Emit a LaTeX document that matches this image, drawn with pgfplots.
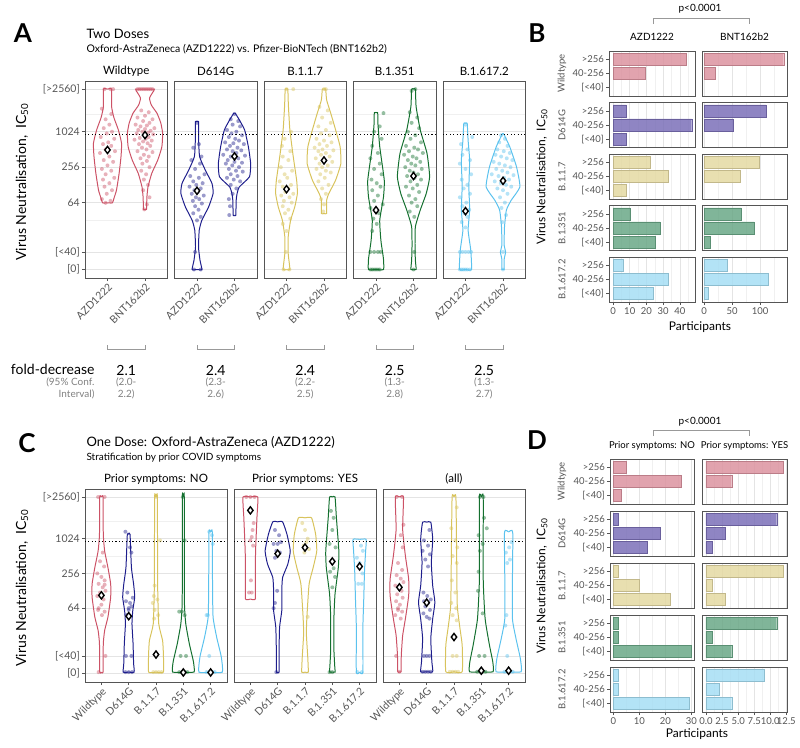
\documentclass[border=0pt]{standalone}
\usepackage{pgfplots}
\pgfplotsset{compat=1.18}
\usepackage{pgfplotstable}
\usepackage{fontspec}
\setmainfont{Lato}
\newcommand{\fs}[1]{\fontsize{#1}{#1}\selectfont}
\definecolor{lR}{HTML}{CC5266}
\definecolor{lB}{HTML}{1E1E8C}
\definecolor{lY}{HTML}{D8C35C}
\definecolor{lG}{HTML}{14702F}
\definecolor{lC}{HTML}{5BC2EE}
\definecolor{bR}{HTML}{DC93A0}
\definecolor{bB}{HTML}{7B70B8}
\definecolor{bY}{HTML}{E4D9A2}
\definecolor{bG}{HTML}{6AA887}
\definecolor{bC}{HTML}{A6DEF4}
\definecolor{frame}{HTML}{555555}
\definecolor{gridc}{HTML}{E4E4E4}
\definecolor{gridm}{HTML}{F0F0F0}
\definecolor{tickc}{HTML}{555555}

% ---------- violin profiles (value in log2 units, half width) ----------
\pgfplotstableread[row sep=\\]{v w\\ 5.99 0\\ 5.99 0.13\\ 6.3 0.18\\ 6.71 0.24\\ 7.65 0.31\\ 8.59 0.36\\ 9.34 0.375\\ 10.1 0.29\\ 10.8 0.17\\ 11.41 0.11\\ 12.4 0.11\\ 12.4 0\\}\vAWa
\pgfplotstableread[row sep=\\]{v w\\ 5.62 0\\ 5.62 0.04\\ 6.3 0.05\\ 6.89 0.08\\ 7.65 0.18\\ 8.4 0.34\\ 9.15 0.45\\ 9.91 0.47\\ 10.5 0.42\\ 11.04 0.32\\ 11.5 0.17\\ 11.89 0.12\\ 12.2 0.2\\ 12.4 0.25\\ 12.4 0\\}\vAWb
\pgfplotstableread[row sep=\\]{v w\\ 2.23 0\\ 2.23 0.13\\ 2.75 0.08\\ 3.5 0.04\\ 4.45 0.06\\ 5.01 0.13\\ 5.76 0.31\\ 6.52 0.43\\ 7.08 0.4\\ 7.84 0.22\\ 8.59 0.07\\ 9.5 0.045\\ 10.56 0.045\\ 10.56 0\\}\vADa
\pgfplotstableread[row sep=\\]{v w\\ 5.29 0\\ 5.29 0.035\\ 6.14 0.045\\ 6.52 0.07\\ 6.89 0.13\\ 7.46 0.4\\ 8.21 0.43\\ 9.15 0.37\\ 10.1 0.27\\ 10.7 0.12\\ 11.04 0.02\\ 11.04 0\\}\vADb
\pgfplotstableread[row sep=\\]{v w\\ 2.23 0\\ 2.23 0.09\\ 3.13 0.045\\ 4.07 0.045\\ 5.01 0.11\\ 5.76 0.22\\ 6.52 0.29\\ 7.27 0.27\\ 8.59 0.18\\ 10.1 0.09\\ 11.5 0.05\\ 12.4 0.035\\ 12.4 0\\}\vAKa
\pgfplotstableread[row sep=\\]{v w\\ 5.39 0\\ 5.39 0.07\\ 6.14 0.07\\ 6.52 0.13\\ 7.27 0.31\\ 8.21 0.45\\ 9.15 0.43\\ 10.1 0.31\\ 11.04 0.18\\ 11.79 0.07\\ 12.4 0.045\\ 12.4 0\\}\vAKb
\pgfplotstableread[row sep=\\]{v w\\ 2.23 0\\ 2.23 0.2\\ 2.8 0.2\\ 3.13 0.18\\ 3.88 0.13\\ 5.01 0.1\\ 6.33 0.2\\ 7.27 0.22\\ 9.15 0.1\\ 10.5 0.05\\ 11.07 0.045\\ 11.07 0\\}\vASa
\pgfplotstableread[row sep=\\]{v w\\ 2.23 0\\ 2.23 0.07\\ 2.75 0.05\\ 3.5 0.04\\ 4.64 0.05\\ 5.58 0.18\\ 6.52 0.34\\ 7.46 0.43\\ 8.78 0.36\\ 10.1 0.18\\ 11.41 0.07\\ 12.4 0.05\\ 12.4 0\\}\vASb
\pgfplotstableread[row sep=\\]{v w\\ 2.23 0\\ 2.23 0.16\\ 3.32 0.14\\ 4.45 0.07\\ 5.58 0.11\\ 6.89 0.09\\ 8.4 0.11\\ 9.5 0.07\\ 10.47 0.045\\ 10.47 0\\}\vAIa
\pgfplotstableread[row sep=\\]{v w\\ 2.23 0\\ 2.23 0.03\\ 2.8 0.03\\ 3.22 0.07\\ 3.6 0.03\\ 4.63 0.04\\ 5.58 0.09\\ 6.14 0.22\\ 6.89 0.45\\ 8.02 0.36\\ 9.15 0.18\\ 9.87 0.02\\ 9.87 0\\}\vAIb
\pgfplotstableread[row sep=\\]{v w\\ 2.32 0\\ 2.32 0.06\\ 3.96 0.07\\ 4.72 0.12\\ 5.49 0.24\\ 6.63 0.34\\ 7.39 0.34\\ 8.34 0.24\\ 9.29 0.12\\ 10.25 0.07\\ 12.4 0.06\\ 12.4 0\\}\vCNw
\pgfplotstableread[row sep=\\]{v w\\ 2.32 0\\ 2.32 0.2\\ 2.82 0.18\\ 3.96 0.16\\ 5.11 0.12\\ 5.87 0.15\\ 6.63 0.22\\ 7.39 0.18\\ 8.34 0.1\\ 10.25 0.05\\ 10.25 0\\}\vCNd
\pgfplotstableread[row sep=\\]{v w\\ 2.32 0\\ 2.32 0.27\\ 3.39 0.27\\ 4.15 0.24\\ 5.11 0.1\\ 7.39 0.06\\ 12.4 0.05\\ 12.4 0\\}\vCNk
\pgfplotstableread[row sep=\\]{v w\\ 2.32 0\\ 2.32 0.39\\ 2.7 0.39\\ 3.01 0.36\\ 3.96 0.22\\ 5.11 0.09\\ 6.43 0.04\\ 12.4 0.035\\ 12.4 0\\}\vCNs
\pgfplotstableread[row sep=\\]{v w\\ 2.32 0\\ 2.32 0.43\\ 3.2 0.39\\ 4.34 0.22\\ 5.49 0.09\\ 7.39 0.07\\ 10.4 0.06\\ 10.4 0\\}\vCNi
\pgfplotstableread[row sep=\\]{v w\\ 6.53 0\\ 6.53 0.18\\ 7.77 0.18\\ 9.29 0.19\\ 11.2 0.24\\ 12.4 0.27\\ 12.4 0\\}\vCYw
\pgfplotstableread[row sep=\\]{v w\\ 2.32 0\\ 2.32 0.05\\ 3.58 0.05\\ 4.91 0.07\\ 5.87 0.15\\ 7.01 0.15\\ 7.77 0.18\\ 8.53 0.37\\ 9.29 0.46\\ 10.25 0.34\\ 10.97 0.18\\ 10.97 0\\}\vCYd
\pgfplotstableread[row sep=\\]{v w\\ 2.32 0\\ 2.32 0.12\\ 3.2 0.1\\ 4.53 0.05\\ 5.49 0.07\\ 7.39 0.15\\ 8.34 0.3\\ 9.29 0.43\\ 10.25 0.39\\ 11.2 0.24\\ 11.2 0\\}\vCYk
\pgfplotstableread[row sep=\\]{v w\\ 2.32 0\\ 2.32 0.1\\ 2.63 0.09\\ 3.58 0.06\\ 5.49 0.06\\ 6.82 0.1\\ 8.34 0.22\\ 9.29 0.24\\ 11.2 0.15\\ 12.4 0.1\\ 12.4 0\\}\vCYs
\pgfplotstableread[row sep=\\]{v w\\ 2.32 0\\ 2.32 0.12\\ 4.91 0.12\\ 6.43 0.15\\ 8.15 0.18\\ 9.29 0.22\\ 9.96 0.24\\ 9.96 0\\}\vCYi
\pgfplotstableread[row sep=\\]{v w\\ 2.34 0\\ 2.34 0.06\\ 3.29 0.07\\ 4.43 0.12\\ 5.39 0.22\\ 6.72 0.34\\ 7.67 0.34\\ 9.01 0.22\\ 10.53 0.12\\ 12.4 0.15\\ 12.4 0\\}\vCAw
\pgfplotstableread[row sep=\\]{v w\\ 2.34 0\\ 2.34 0.22\\ 2.91 0.19\\ 4.25 0.15\\ 5.39 0.22\\ 6.34 0.3\\ 7.29 0.22\\ 8.63 0.17\\ 9.96 0.22\\ 10.95 0.15\\ 10.95 0\\}\vCAd
\pgfplotstableread[row sep=\\]{v w\\ 2.34 0\\ 2.34 0.3\\ 3.86 0.3\\ 4.82 0.22\\ 6.15 0.12\\ 8.63 0.1\\ 12.4 0.07\\ 12.4 0\\}\vCAk
\pgfplotstableread[row sep=\\]{v w\\ 2.34 0\\ 2.34 0.43\\ 2.91 0.42\\ 3.86 0.3\\ 5.39 0.14\\ 7.67 0.07\\ 12.4 0.07\\ 12.4 0\\}\vCAs
\pgfplotstableread[row sep=\\]{v w\\ 2.34 0\\ 2.34 0.46\\ 3.1 0.43\\ 4.25 0.27\\ 5.39 0.14\\ 7.67 0.14\\ 10.38 0.15\\ 10.38 0\\}\vCAi

\newcommand{\violin}[3]{%
  \addplot[draw=#2, line width=1.0pt, mark=none, smooth, tension=0.3] table[x expr={#1+\thisrow{w}}, y=v] {#3};
  \addplot[draw=#2, line width=1.0pt, mark=none, smooth, tension=0.3] table[x expr={#1-\thisrow{w}}, y=v] {#3};
}

\pgfplotsset{
  vio/.style={scale only axis, anchor=north west,
    ymin=1.75, ymax=12.86, xmin=0.4,
    axis line style={draw=frame, line width=0.8pt},
    ytick={2.25,3.22,6,8,10,12.4},
    minor ytick={5,7,9,11},
    ymajorgrids, yminorgrids,
    major grid style={draw=gridc, line width=0.7pt},
    minor grid style={draw=gridm, line width=0.4pt},
    tick align=outside, tick pos=left,
    major tick length=3bp, minor tick length=0pt,
    tick style={draw=frame, line width=0.6pt},
    yticklabels={},
    every major y tick/.append style={draw opacity=0},
    xticklabel style={rotate=45, anchor=north east, font={\fs{10.5bp}}, text=tickc, inner sep=1bp},
    yticklabel style={font={\fs{10.5bp}}, text=tickc, inner sep=2bp},
  },
  firsty/.style={yticklabels={[0],[<40],64,256,1024,[>2560]}, every major y tick/.append style={draw opacity=1}},
  pts/.style={only marks, mark=*, mark size=2pt, mark options={draw opacity=0, fill opacity=0.45}},
  meanm/.style={only marks, mark=diamond*, mark size=3.6pt, mark options={fill=white, draw=black, line width=1.4pt}},
  dotl/.style={black, line width=1pt, dash pattern=on 1.1pt off 2.3pt, mark=none},
  bax/.style={scale only axis, anchor=north west, height=45bp, xbar, bar width=0.86,
    ymin=0.4, ymax=3.6, ytick={1,2,3}, yticklabels={},
    xmajorgrids, xminorgrids,
    major grid style={draw=gridc, line width=0.7pt},
    minor grid style={draw=gridm, line width=0.4pt},
    axis line style={draw=frame, line width=0.8pt},
    tick align=outside, tick pos=left, major tick length=3bp, minor tick length=0pt,
    tick style={draw=frame, line width=0.6pt},
    xticklabels={},
    every major x tick/.append style={draw opacity=0},
    every major y tick/.append style={draw opacity=0},
    yticklabel style={font={\fs{9.5bp}}, text=tickc, inner sep=2bp},
    xticklabel style={font={\fs{9.5bp}}, text=tickc, inner sep=2bp},
  },
  ylab/.style={yticklabels={[<40],40-256,>256}, every major y tick/.append style={draw opacity=1}},
  xlab/.style={every major x tick/.append style={draw opacity=1}},
  bl/.style={bax, width=86bp, xmin=-2.4, xmax=49, xtick={0,10,20,30,40}, minor xtick={5,15,25,35,45}},
  br/.style={bax, width=85bp, xmin=-4, xmax=148, xtick={0,50,100}, minor xtick={25,75,125}},
  dl/.style={bax, width=84bp, xmin=-1.3, xmax=31, xtick={0,10,20,30}, minor xtick={5,15,25}},
  dr/.style={bax, width=85bp, xmin=-0.62, xmax=12.6, xtick={0,2.5,5,7.5,10,12.5}, minor xtick={1.25,3.75,6.25,8.75,11.25}},
  barR/.style={fill=bR, draw=bR!85!black, fill opacity=0.85, line width=0.3pt},
  barB/.style={fill=bB, draw=bB!85!black, fill opacity=0.85, line width=0.3pt},
  barY/.style={fill=bY, draw=bY!85!black, fill opacity=0.85, line width=0.3pt},
  barG/.style={fill=bG, draw=bG!85!black, fill opacity=0.85, line width=0.3pt},
  barC/.style={fill=bC, draw=bC!85!black, fill opacity=0.85, line width=0.3pt},
}

\begin{document}
\begin{tikzpicture}
\useasboundingbox (0,0) rectangle (800bp,-748bp);

% ================= PANEL A =================
\node[font={\bfseries\fs{26bp}}] at (23bp,-33bp) {A};
\node[anchor=west, font={\fs{13bp}}] at (83bp,-34bp) {Two Doses};
\node[anchor=west, font={\fs{10.5bp}}] at (83bp,-49bp) {Oxford-AstraZeneca (AZD1222) vs. Pfizer-BioNTech (BNT162b2)};
\node[rotate=90, font={\fs{14bp}}] at (22bp,-182bp) {Virus Neutralisation,\ \ IC\textsubscript{50}};
\foreach \cx/\lab in {126.25/Wildtype, 215.75/D614G, 305.25/B.1.1.7, 394.75/B.1.351, 484.25/B.1.617.2}
  \node[font={\fs{11.5bp}}] at (\cx bp,-71bp) {\lab};

\begin{axis}[vio, firsty, at={(85bp,-81bp)}, width=82.5bp, height=197bp, xmax=2.6, xtick={1,2}, xticklabels={AZD1222,BNT162b2}]
\violin{1}{lR}{\vAWa}
\violin{2}{lR}{\vAWb}
\addplot[pts, lR] coordinates {(0.92,12.4)(1.08,12.4)(1.15,12.4)(0.85,11.3)(1.1,11.0)(0.95,10.7)(1.05,10.4)(0.9,10.2)(1.12,10.0)(0.98,9.9)(0.82,9.7)(1.18,9.6)(1.02,9.4)(0.88,9.3)(1.1,9.2)(0.95,9.0)(1.2,8.9)(0.8,8.8)(1.05,8.6)(0.9,8.4)(1.15,8.3)(1.0,8.1)(0.85,7.9)(1.1,7.8)(0.95,7.6)(1.18,7.4)(0.88,7.3)(1.05,7.1)(0.92,6.9)(1.12,6.7)(0.98,6.5)(0.85,6.2)(1.08,6.1)(0.95,5.99)};
\addplot[pts, lR] coordinates {(1.8,12.4)(1.85,12.4)(1.9,12.4)(1.95,12.4)(2.0,12.4)(2.05,12.4)(2.1,12.4)(2.15,12.4)(2.2,12.4)(1.9,11.2)(2.1,11.1)(2.0,10.9)(1.8,10.8)(2.2,10.7)(1.95,10.6)(2.12,10.5)(1.75,10.4)(2.05,10.35)(1.88,10.3)(2.25,10.2)(2.0,10.15)(1.82,10.1)(2.15,10.05)(1.93,10.0)(2.08,9.95)(1.78,9.9)(2.22,9.85)(1.98,9.8)(2.1,9.7)(1.86,9.65)(2.02,9.6)(1.72,9.55)(2.18,9.5)(1.95,9.45)(2.07,9.35)(1.84,9.3)(2.14,9.2)(1.92,9.1)(2.04,9.0)(1.8,8.9)(2.2,8.85)(1.97,8.7)(2.1,8.6)(1.88,8.5)(2.05,8.35)(1.93,8.2)(2.12,8.0)(1.9,7.8)(2.03,7.6)(1.97,7.3)(2.08,7.0)(1.95,6.7)(2.12,6.3)(2.05,5.9)(1.98,5.62)};
\addplot[dotl] coordinates {(0.4,9.83)(2.6,9.83)};
\addplot[meanm] coordinates {(1,8.97)(2,9.81)};
\end{axis}

\begin{axis}[vio, at={(174.5bp,-81bp)}, width=82.5bp, height=197bp, xmax=2.6, xtick={1,2}, xticklabels={AZD1222,BNT162b2}]
\violin{1}{lB}{\vADa}
\violin{2}{lB}{\vADb}
\addplot[pts, lB] coordinates {(0.92,2.23)(1.1,2.23)(0.95,3.22)(1.0,10.5)(1.05,9.3)(0.9,9.1)(1.12,8.6)(0.85,8.4)(1.08,8.2)(0.95,7.9)(1.2,7.6)(0.82,7.5)(1.05,7.4)(0.9,7.2)(1.15,7.1)(0.98,7.0)(0.8,6.9)(1.1,6.8)(0.93,6.7)(1.02,6.6)(0.86,6.5)(1.18,6.4)(0.97,6.3)(1.06,6.2)(0.89,6.1)(1.13,5.95)(0.95,5.8)(1.04,5.6)(0.9,5.4)(1.1,5.2)(1.0,5.0)};
\addplot[pts, lB] coordinates {(2.0,11.0)(1.9,10.7)(2.1,10.6)(1.95,10.4)(2.15,10.3)(1.8,10.1)(2.05,10.0)(1.92,9.9)(2.2,9.8)(1.85,9.7)(2.02,9.6)(2.12,9.5)(1.75,9.4)(1.97,9.35)(2.25,9.3)(1.88,9.2)(2.08,9.1)(1.8,9.0)(2.18,8.95)(1.95,8.9)(2.05,8.8)(1.7,8.7)(2.28,8.65)(1.9,8.6)(2.1,8.5)(1.82,8.4)(2.0,8.3)(2.2,8.25)(1.77,8.2)(1.94,8.1)(2.12,8.0)(1.85,7.9)(2.04,7.8)(2.22,7.75)(1.9,7.6)(2.08,7.5)(1.8,7.4)(1.98,7.3)(2.15,7.2)(1.9,7.0)(2.05,6.8)(1.95,6.5)(1.85,6.2)(1.88,5.8)(1.86,5.3)};
\addplot[dotl] coordinates {(0.4,9.83)(2.6,9.83)};
\addplot[meanm] coordinates {(1,6.67)(2,8.61)};
\end{axis}

\begin{axis}[vio, at={(264bp,-81bp)}, width=82.5bp, height=197bp, xmax=2.6, xtick={1,2}, xticklabels={AZD1222,BNT162b2}]
\violin{1}{lY}{\vAKa}
\violin{2}{lY}{\vAKb}
\addplot[pts, lY] coordinates {(0.92,2.23)(1.08,2.23)(1.0,12.4)(1.18,12.4)(0.98,3.22)(1.12,10.0)(0.95,9.6)(0.88,9.2)(1.1,8.9)(0.9,8.6)(1.05,8.4)(0.85,8.0)(1.15,7.8)(0.95,7.6)(1.02,7.4)(0.82,7.2)(1.12,7.0)(0.9,6.9)(1.05,6.8)(0.97,6.6)(1.18,6.5)(0.86,6.4)(1.08,6.3)(0.93,6.1)(1.14,6.0)(0.9,5.8)(1.05,5.6)(0.96,5.4)(1.1,5.1)(0.9,4.8)(1.0,4.4)};
\addplot[pts, lY] coordinates {(2.0,12.4)(2.05,12.4)(1.88,11.4)(2.1,11.2)(1.95,10.8)(2.18,10.5)(1.85,10.3)(2.05,10.1)(1.92,9.9)(2.15,9.8)(1.8,9.6)(2.0,9.5)(2.2,9.4)(1.88,9.3)(2.08,9.2)(1.75,9.1)(1.96,9.0)(2.25,8.95)(1.85,8.9)(2.05,8.8)(1.92,8.7)(2.15,8.6)(1.78,8.5)(2.0,8.4)(2.22,8.3)(1.88,8.2)(2.1,8.1)(1.95,8.0)(1.8,7.9)(2.05,7.8)(2.18,7.7)(1.9,7.6)(2.02,7.4)(1.85,7.2)(2.12,7.0)(1.95,6.8)(2.05,6.5)(1.92,6.2)(2.0,5.9)(1.98,5.5)};
\addplot[dotl] coordinates {(0.4,9.83)(2.6,9.83)};
\addplot[meanm] coordinates {(1,6.76)(2,8.38)};
\end{axis}

\begin{axis}[vio, at={(353.5bp,-81bp)}, width=82.5bp, height=197bp, xmax=2.6, xtick={1,2}, xticklabels={AZD1222,BNT162b2}]
\violin{1}{lG}{\vASa}
\violin{2}{lG}{\vASb}
\addplot[pts, lG] coordinates {(0.85,2.23)(0.9,2.23)(0.95,2.23)(1.0,2.23)(1.05,2.23)(1.1,2.23)(0.85,3.22)(0.95,3.22)(1.05,3.22)(1.12,3.22)(1.2,11.05)(1.1,10.3)(0.95,10.0)(1.15,9.6)(0.9,9.2)(1.05,8.8)(0.85,8.5)(1.1,8.2)(0.95,7.9)(1.15,7.6)(0.88,7.3)(1.02,7.1)(1.12,6.9)(0.9,6.7)(1.05,6.4)(0.95,6.1)(1.18,5.9)(0.85,5.7)(1.08,5.4)(0.93,5.1)(1.02,4.8)(0.9,4.4)};
\addplot[pts, lG] coordinates {(2.0,2.23)(2.02,3.22)(1.95,12.3)(2.05,12.4)(1.9,11.1)(2.1,10.8)(1.95,10.5)(2.15,10.2)(1.85,10.0)(2.05,9.8)(1.92,9.6)(2.2,9.4)(1.8,9.2)(2.02,9.1)(2.12,9.0)(1.88,8.9)(2.25,8.8)(1.75,8.7)(1.98,8.6)(2.08,8.5)(1.85,8.4)(2.18,8.3)(1.94,8.2)(2.05,8.1)(1.78,8.0)(2.22,7.9)(1.9,7.8)(2.0,7.7)(2.12,7.6)(1.83,7.5)(2.03,7.4)(2.2,7.3)(1.92,7.2)(2.1,7.0)(1.8,6.9)(1.98,6.8)(2.15,6.6)(1.88,6.4)(2.05,6.2)(1.95,6.0)(2.1,5.8)(1.9,5.5)(2.02,5.2)};
\addplot[dotl] coordinates {(0.4,9.83)(2.6,9.83)};
\addplot[meanm] coordinates {(1,5.58)(2,7.5)};
\end{axis}

\begin{axis}[vio, at={(443bp,-81bp)}, width=82.5bp, height=197bp, xmax=2.6, xtick={1,2}, xticklabels={AZD1222,BNT162b2}]
\violin{1}{lC}{\vAIa}
\violin{2}{lC}{\vAIb}
\addplot[pts, lC] coordinates {(0.85,2.23)(0.9,2.23)(0.95,2.23)(1.0,2.23)(1.05,2.23)(1.12,2.23)(0.85,3.22)(0.92,3.22)(1.0,3.22)(1.08,3.22)(1.15,3.22)(1.0,10.4)(1.18,9.7)(0.88,9.3)(1.05,9.0)(0.92,8.7)(1.12,8.4)(0.85,8.2)(1.0,7.9)(1.15,7.6)(0.9,7.3)(1.05,7.0)(0.95,6.8)(1.12,6.5)(0.85,6.3)(1.02,6.0)(0.92,5.8)(1.1,5.6)(0.97,5.4)(1.05,5.2)(0.9,4.9)(1.0,4.6)};
\addplot[pts, lC] coordinates {(2.0,2.23)(2.0,3.22)(1.95,9.8)(2.05,9.6)(1.9,9.4)(2.12,9.2)(1.85,9.0)(2.02,8.9)(2.18,8.8)(1.8,8.7)(1.95,8.6)(2.1,8.5)(2.25,8.4)(1.75,8.3)(1.9,8.2)(2.05,8.1)(2.2,8.0)(1.82,7.9)(1.98,7.8)(2.12,7.7)(1.7,7.6)(2.28,7.55)(1.88,7.5)(2.03,7.4)(2.16,7.3)(1.78,7.2)(1.94,7.1)(2.08,7.0)(2.22,6.9)(1.85,6.8)(2.0,6.7)(2.12,6.5)(1.92,6.3)(2.05,6.0)(1.96,5.7)(2.08,5.3)(1.98,4.9)};
\addplot[dotl] coordinates {(0.4,9.83)(2.6,9.83)};
\addplot[meanm] coordinates {(1,5.52)(2,7.23)};
\end{axis}

% fold decrease
\node[anchor=east, font={\fs{14bp}}] at (98bp,-369bp) {fold-decrease};
\node[anchor=east, font={\fs{10bp}}, text=gray] at (98bp,-382bp) {(95\% Conf.};
\node[anchor=east, font={\fs{10bp}}, text=gray] at (98bp,-394bp) {Interval)};
\foreach \xa/\xb/\cx/\val/\la/\lb in {107.5/145/126.25/2.1/(2.0-/2.2), 197/234.5/215.75/2.4/(2.3-/2.6), 286.5/324/305.25/2.4/(2.2-/2.5), 376/413.5/394.75/2.5/(1.3-/2.8), 465.5/503/484.25/2.5/(1.3-/2.7)}{
  \draw[gray!80, line width=0.6pt] (\xa bp,-345bp) -- (\xa bp,-349bp) -- (\xb bp,-349bp) -- (\xb bp,-345bp);
  \node[font={\fs{14bp}}] at (\cx bp,-370bp) {\val};
  \node[font={\fs{10bp}}, text=gray] at (\cx bp,-382bp) {\la};
  \node[font={\fs{10bp}}, text=gray] at (\cx bp,-394bp) {\lb};
}

% ================= PANEL B =================
\node[font={\bfseries\fs{26bp}}] at (537bp,-33bp) {B};
\node[font={\fs{10bp}}] at (700bp,-9bp) {p<0.0001};
\draw[gray!80, line width=0.6pt] (653bp,-24bp) -- (653bp,-18bp) -- (749bp,-18bp) -- (749bp,-24bp);
\node[font={\fs{10bp}}] at (652bp,-37bp) {AZD1222};
\node[font={\fs{10bp}}] at (744.5bp,-37bp) {BNT162b2};
\node[rotate=90, font={\fs{12bp}}] at (542bp,-177bp) {Virus Neutralisation,\ \ IC\textsubscript{50}};
\node[font={\fs{12bp}}] at (700bp,-327bp) {Participants};
\foreach \cy/\lab in {73.5/Wildtype, 125/D614G, 176.5/B.1.1.7, 228/B.1.351, 279.5/B.1.617.2}
  \node[rotate=90, font={\fs{9.5bp}}, text=tickc] at (562bp,-\cy bp) {\lab};

\begin{axis}[bl, ylab, at={(609bp,-51bp)}]
\addplot[barR] coordinates {(44,3)(19,2)};
\end{axis}
\begin{axis}[br, at={(702bp,-51bp)}]
\addplot[barR] coordinates {(142,3)(20,2)};
\end{axis}
\begin{axis}[bl, ylab, at={(609bp,-102.5bp)}]
\addplot[barB] coordinates {(8,3)(47,2)(8,1)};
\end{axis}
\begin{axis}[br, at={(702bp,-102.5bp)}]
\addplot[barB] coordinates {(110,3)(51,2)};
\end{axis}
\begin{axis}[bl, ylab, at={(609bp,-154bp)}]
\addplot[barY] coordinates {(22,3)(33,2)(8,1)};
\end{axis}
\begin{axis}[br, at={(702bp,-154bp)}]
\addplot[barY] coordinates {(98,3)(65,2)};
\end{axis}
\begin{axis}[bl, ylab, at={(609bp,-205.5bp)}]
\addplot[barG] coordinates {(10,3)(28,2)(25,1)};
\end{axis}
\begin{axis}[br, at={(702bp,-205.5bp)}]
\addplot[barG] coordinates {(66,3)(89,2)(10,1)};
\end{axis}
\begin{axis}[bl, ylab, xlab, xticklabels={0,10,20,30,40}, at={(609bp,-257bp)}]
\addplot[barC] coordinates {(6,3)(33,2)(24,1)};
\end{axis}
\begin{axis}[br, xlab, xticklabels={0,50,100}, at={(702bp,-257bp)}]
\addplot[barC] coordinates {(41,3)(114,2)(7,1)};
\end{axis}

% ================= PANEL C =================
\node[font={\bfseries\fs{26bp}}] at (27bp,-443bp) {C};
\node[anchor=west, font={\fs{13bp}}] at (83bp,-442bp) {One Dose: Oxford-AstraZeneca (AZD1222)};
\node[anchor=west, font={\fs{10bp}}] at (83bp,-458bp) {Stratification by prior COVID symptoms};
\node[rotate=90, font={\fs{14bp}}] at (22bp,-588bp) {Virus Neutralisation,\ \ IC\textsubscript{50}};
\node[font={\fs{11.5bp}}] at (156bp,-479bp) {Prior symptoms: NO};
\node[font={\fs{11.5bp}}] at (305bp,-479bp) {Prior symptoms: YES};
\node[font={\fs{11.5bp}}] at (454bp,-479bp) {(all)};

\begin{axis}[vio, firsty, at={(85bp,-489bp)}, width=142bp, height=193bp, xmax=5.6, xtick={1,2,3,4,5}, xticklabels={Wildtype,D614G,B.1.1.7,B.1.351,B.1.617.2}]
\violin{1}{lR}{\vCNw}
\violin{2}{lB}{\vCNd}
\violin{3}{lY}{\vCNk}
\violin{4}{lG}{\vCNs}
\violin{5}{lC}{\vCNi}
\addplot[pts, lR] coordinates {(0.88,12.4)(1.12,12.4)(0.9,2.32)(1.15,3.25)(1.05,9.2)(0.95,8.7)(1.1,8.4)(0.85,8.0)(1.0,7.8)(1.12,7.6)(0.9,7.4)(1.05,7.2)(1.15,7.0)(0.95,6.9)(0.85,6.7)(1.08,6.5)(1.0,6.2)(0.9,6.0)(1.12,5.8)(1.02,5.6)(0.88,5.9)(1.12,7.35)};
\addplot[pts, lB] coordinates {(2.0,2.32)(1.88,2.32)(2.12,2.32)(1.9,3.25)(2.1,3.25)(1.88,10.4)(2.05,9.5)(2.1,9.2)(1.95,6.9)(2.15,6.6)(1.9,6.4)(2.05,6.3)(2.0,5.9)(1.92,5.6)(2.1,6.1)(2.0,6.0)};
\addplot[pts, lY] coordinates {(2.9,2.32)(3.0,2.32)(3.1,2.32)(3.2,2.32)(2.92,6.7)(2.88,6.3)(3.05,6.5)(2.95,5.9)(3.08,5.6)(2.93,5.4)(3.15,9.9)(3.0,12.4)(2.95,7.3)};
\addplot[pts, lG] coordinates {(3.85,2.32)(3.95,2.32)(4.05,2.32)(4.15,2.32)(4.0,2.32)(3.9,3.25)(4.1,3.25)(3.85,5.8)(3.95,5.8)(4.05,5.6)(4.05,9.9)(3.98,12.4)};
\addplot[pts, lC] coordinates {(4.85,2.32)(4.95,2.32)(5.05,2.32)(5.15,2.32)(4.95,3.25)(4.85,5.6)(4.9,5.6)(4.95,10.4)(5.05,10.2)(5.08,9.7)};
\addplot[dotl] coordinates {(0.4,9.83)(5.6,9.83)};
\addplot[meanm] coordinates {(1,6.74)(2,5.54)(3,3.33)(4,2.3)(5,2.3)};
\end{axis}

\begin{axis}[vio, at={(234bp,-489bp)}, width=142bp, height=193bp, xmax=5.6, xtick={1,2,3,4,5}, xticklabels={Wildtype,D614G,B.1.1.7,B.1.351,B.1.617.2}]
\violin{1}{lR}{\vCYw}
\violin{2}{lB}{\vCYd}
\violin{3}{lY}{\vCYk}
\violin{4}{lG}{\vCYs}
\violin{5}{lC}{\vCYi}
\addplot[pts, lR] coordinates {(0.85,12.4)(1.0,12.4)(1.15,12.4)(1.12,10.9)(1.08,10.5)(1.05,10.1)(1.1,9.6)(1.0,9.9)(1.02,7.6)(0.95,6.9)(1.05,6.9)};
\addplot[pts, lB] coordinates {(1.95,2.32)(1.9,10.5)(2.05,10.2)(1.85,9.7)(2.0,9.7)(2.12,9.8)(1.95,9.3)(2.08,9.2)(1.9,8.9)(1.98,7.0)(1.9,6.3)(1.85,6.0)};
\addplot[pts, lY] coordinates {(2.9,10.9)(3.0,10.5)(3.1,10.0)(2.95,9.6)(3.05,9.8)(3.15,9.4)(2.98,9.2)(3.1,5.5)};
\addplot[pts, lG] coordinates {(3.9,2.32)(4.0,2.32)(3.95,11.6)(4.05,11.2)(4.0,10.5)(3.9,9.7)(4.12,9.5)(4.05,8.3)(3.92,8.1)(4.1,7.8)(4.0,7.2)};
\addplot[pts, lC] coordinates {(4.92,2.32)(5.08,2.32)(5.05,9.6)(5.12,9.3)(4.9,8.9)(5.0,8.6)(5.1,8.0)(4.95,7.4)(5.08,7.4)};
\addplot[dotl] coordinates {(0.4,9.83)(5.6,9.83)};
\addplot[meanm] coordinates {(1,11.63)(2,9.14)(3,9.49)(4,8.69)(5,8.4)};
\end{axis}

\begin{axis}[vio, at={(383bp,-489bp)}, width=142bp, height=193bp, xmax=5.6, xtick={1,2,3,4,5}, xticklabels={Wildtype,D614G,B.1.1.7,B.1.351,B.1.617.2}]
\violin{1}{lR}{\vCAw}
\violin{2}{lB}{\vCAd}
\violin{3}{lY}{\vCAk}
\violin{4}{lG}{\vCAs}
\violin{5}{lC}{\vCAi}
\addplot[pts, lR] coordinates {(0.9,12.4)(1.1,12.4)(1.0,2.34)(0.88,3.25)(1.15,10.8)(1.05,10.2)(1.12,9.5)(0.95,8.6)(1.1,8.2)(0.9,7.9)(1.05,7.7)(1.15,7.5)(0.85,7.3)(1.0,7.2)(1.08,7.0)(0.92,6.8)(1.12,6.6)(0.88,6.4)(1.02,6.2)(0.95,6.0)(1.1,5.8)(0.85,5.6)(1.05,5.4)(0.95,5.9)};
\addplot[pts, lB] coordinates {(1.85,2.34)(1.95,2.34)(2.05,2.34)(2.15,2.34)(1.9,3.25)(2.0,3.25)(2.1,3.25)(2.1,10.5)(1.9,9.9)(2.05,9.6)(1.85,9.3)(2.12,9.1)(1.95,8.8)(2.05,8.4)(1.88,6.9)(2.02,6.7)(2.15,6.5)(1.9,6.4)(2.05,6.3)(1.95,6.1)(2.12,5.9)(1.88,5.7)(2.0,5.5)(2.1,5.4)};
\addplot[pts, lY] coordinates {(2.85,2.34)(2.95,2.34)(3.05,2.34)(3.15,2.34)(2.95,3.25)(3.1,3.25)(3.1,11.8)(2.9,10.6)(3.05,9.9)(3.12,9.5)(2.95,9.0)(3.1,8.6)(2.92,7.6)(3.05,6.9)(2.9,6.3)(3.08,6.0)(2.95,5.6)(3.1,5.3)};
\addplot[pts, lG] coordinates {(3.85,2.34)(3.95,2.34)(4.05,2.34)(4.15,2.34)(3.92,3.25)(4.12,3.25)(3.95,12.4)(4.08,12.4)(4.1,11.2)(4.2,10.6)(3.9,10.2)(4.05,9.7)(3.95,9.3)(3.9,8.1)(3.88,7.0)(4.05,5.7)};
\addplot[pts, lC] coordinates {(4.85,2.34)(4.95,2.34)(5.05,2.34)(5.15,2.34)(4.95,3.25)(5.1,9.8)(5.02,9.5)(4.9,9.2)(5.05,8.8)(4.95,8.6)(4.92,5.6)(4.88,5.0)};
\addplot[dotl] coordinates {(0.4,9.83)(5.6,9.83)};
\addplot[meanm] coordinates {(1,7.2)(2,6.32)(3,4.34)(4,2.4)(5,2.4)};
\end{axis}

% ================= PANEL D =================
\node[font={\bfseries\fs{26bp}}] at (537bp,-440bp) {D};
\node[font={\fs{10bp}}] at (700bp,-422bp) {p<0.0001};
\draw[gray!80, line width=0.6pt] (653bp,-436bp) -- (653bp,-430bp) -- (749bp,-430bp) -- (749bp,-436bp);
\node[font={\fs{9.5bp}}] at (652bp,-446bp) {Prior symptoms: NO};
\node[font={\fs{9.5bp}}] at (744.5bp,-446bp) {Prior symptoms: YES};
\node[rotate=90, font={\fs{12bp}}] at (542bp,-586bp) {Virus Neutralisation,\ \ IC\textsubscript{50}};
\node[font={\fs{12bp}}] at (697bp,-734bp) {Participants};
\foreach \cy/\lab in {481.5/Wildtype, 533.5/D614G, 585.5/B.1.1.7, 637.5/B.1.351, 689.5/B.1.617.2}
  \node[rotate=90, font={\fs{9.5bp}}, text=tickc] at (562bp,-\cy bp) {\lab};

\begin{axis}[dl, ylab, at={(610bp,-459bp)}]
\addplot[barR] coordinates {(5,3)(26,2)(3,1)};
\end{axis}
\begin{axis}[dr, at={(702bp,-459bp)}]
\addplot[barR] coordinates {(12,3)(4,2)};
\end{axis}
\begin{axis}[dl, ylab, at={(610bp,-511bp)}]
\addplot[barB] coordinates {(2,3)(18,2)(13,1)};
\end{axis}
\begin{axis}[dr, at={(702bp,-511bp)}]
\addplot[barB] coordinates {(11,3)(3,2)(1,1)};
\end{axis}
\begin{axis}[dl, ylab, at={(610bp,-563bp)}]
\addplot[barY] coordinates {(2,3)(10,2)(22,1)};
\end{axis}
\begin{axis}[dr, at={(702bp,-563bp)}]
\addplot[barY] coordinates {(12,3)(1,2)(3,1)};
\end{axis}
\begin{axis}[dl, ylab, at={(610bp,-615bp)}]
\addplot[barG] coordinates {(2,3)(2,2)(30,1)};
\end{axis}
\begin{axis}[dr, at={(702bp,-615bp)}]
\addplot[barG] coordinates {(11,3)(1,2)(4,1)};
\end{axis}
\begin{axis}[dl, ylab, xlab, xticklabels={0,10,20,30}, at={(610bp,-667bp)}]
\addplot[barC] coordinates {(2,3)(2,2)(29,1)};
\end{axis}
\begin{axis}[dr, xlab, xticklabels={0.0,2.5,5.0,7.5,10.0,12.5}, at={(702bp,-667bp)}]
\addplot[barC] coordinates {(9,3)(2,2)(4,1)};
\end{axis}

\end{tikzpicture}
\end{document}
